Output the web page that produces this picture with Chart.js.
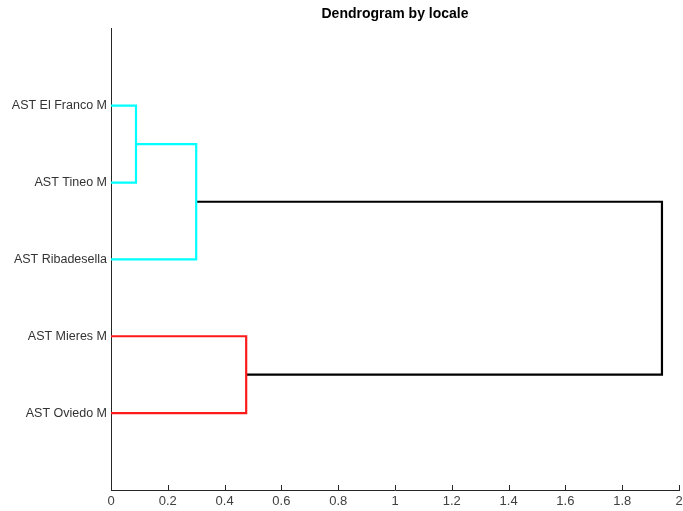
<!DOCTYPE html>
<html>
<head>
<meta charset="utf-8">
<script src="https://cdn.jsdelivr.net/npm/chart.js@4.4.0/dist/chart.umd.min.js"></script>
<style>
  body { margin: 0; background: #fff; }
  #wrap { width: 683px; height: 511px; }
</style>
</head>
<body>
<div id="wrap"><canvas id="dendro"></canvas></div>
<script>
// Leaves, top to bottom (node ids 1..5)
const leafNames = ['AST El Franco M', 'AST Tineo M', 'AST Ribadesella', 'AST Mieres M', 'AST Oviedo M'];
// Links in merge order (node ids 6, 7, 8, 9)
const linkLeft = [1, 6, 4, 7];
const linkRight = [2, 3, 5, 8];
const linkHeights = [0.088, 0.30, 0.476, 1.94];
const linkColors = ['#00ffff', '#00ffff', '#ff1a1a', '#000000'];
const xTicks = [0, 0.2, 0.4, 0.6, 0.8, 1, 1.2, 1.4, 1.6, 1.8, 2];

// position and height of each node
const nodeY = {};
const nodeH = {};
leafNames.forEach((n, i) => { nodeY[i + 1] = i + 1; nodeH[i + 1] = 0; });
const datasets = linkHeights.map((h, k) => {
    const a = linkLeft[k], b = linkRight[k];
    const id = leafNames.length + k + 1;
    nodeY[id] = (nodeY[a] + nodeY[b]) / 2;
    nodeH[id] = h;
    return {
        data: [
            { x: nodeH[a], y: nodeY[a] },
            { x: h, y: nodeY[a] },
            { x: h, y: nodeY[b] },
            { x: nodeH[b], y: nodeY[b] }
        ],
        showLine: true,
        borderColor: linkColors[k],
        borderWidth: 2.2,
        pointRadius: 0,
        tension: 0
    };
});

// small inward tick marks on the x axis, like MATLAB
const innerTicks = {
    id: 'innerTicks',
    afterDraw(chart) {
        const { ctx, scales: { x }, chartArea } = chart;
        ctx.save();
        ctx.strokeStyle = '#262626';
        ctx.lineWidth = 1;
        xTicks.forEach(v => {
            const px = Math.round(x.getPixelForValue(v)) + 0.5;
            ctx.beginPath();
            ctx.moveTo(px, chartArea.bottom);
            ctx.lineTo(px, chartArea.bottom - 5);
            ctx.stroke();
        });
        ctx.restore();
    }
};

new Chart(document.getElementById('dendro'), {
    type: 'scatter',
    data: { datasets },
    options: {
        responsive: true,
        maintainAspectRatio: false,
        animation: false,
        layout: { padding: { left: 0, right: 0, top: 0, bottom: 0 } },
        plugins: {
            legend: { display: false },
            tooltip: { enabled: false },
            title: {
                display: true,
                text: 'Dendrogram by locale',
                fullSize: false,
                color: '#000',
                font: { family: 'Liberation Sans', size: 14, weight: 'bold' },
                padding: { top: 6, bottom: 6 }
            }
        },
        scales: {
            x: {
                type: 'linear',
                min: 0,
                max: 2,
                afterBuildTicks: s => { s.ticks = xTicks.map(v => ({ value: v })); },
                afterFit: s => { s.height = 21; s.paddingRight = 4; },
                grid: { display: false, drawTicks: false },
                border: { display: true, color: '#262626', width: 1 },
                ticks: {
                    padding: 4,
                    color: '#404040',
                    maxRotation: 0,
                    font: { family: 'Liberation Sans', size: 13 },
                    callback: v => String(Math.round(v * 10) / 10)
                }
            },
            y: {
                type: 'linear',
                min: 0,
                max: leafNames.length + 1,
                reverse: true,
                afterBuildTicks: s => { s.ticks = leafNames.map((n, i) => ({ value: i + 1 })); },
                afterFit: s => { s.width = 111; },
                grid: { display: false, drawTicks: false },
                border: { display: true, color: '#262626', width: 1 },
                ticks: {
                    padding: 4,
                    color: '#333333',
                    font: { family: 'Liberation Sans', size: 12.5 },
                    callback: v => leafNames[v - 1] || ''
                }
            }
        }
    },
    plugins: [innerTicks]
});
</script>
</body>
</html>
